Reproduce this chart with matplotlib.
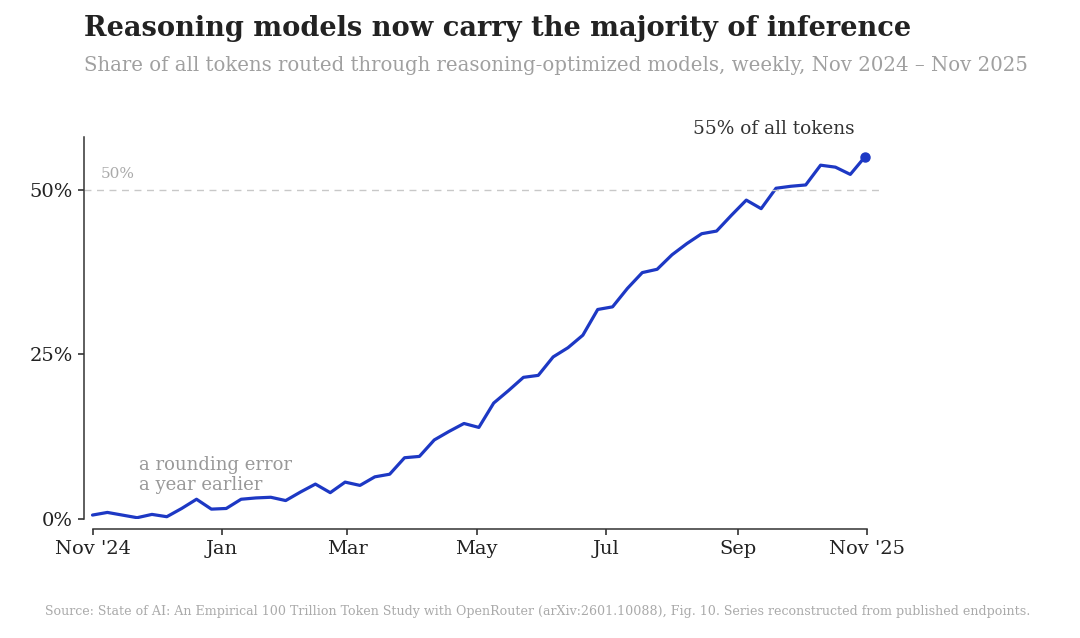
import matplotlib
matplotlib.use("Agg")
from matplotlib import pyplot as plt
import matplotlib.dates as mdates
import pandas as pd

# weekly share of tokens on reasoning-optimized models (%)
share = [0.6, 1.0, 0.6, 0.2, 0.7, 0.35, 1.6, 3.0, 1.5, 1.6,
         3.0, 3.2, 3.3, 2.8, 4.1, 5.3, 4.0, 5.6, 5.1, 6.4,
         6.8, 9.3, 9.5, 12.0, 13.3, 14.5, 13.9, 17.6, 19.5, 21.5,
         21.8, 24.6, 26.0, 27.9, 31.8, 32.2, 35.0, 37.4, 37.9, 40.1,
         41.8, 43.3, 43.7, 46.1, 48.4, 47.1, 50.2, 50.5, 50.7, 53.7,
         53.4, 52.3, 55.0]
weeks = pd.date_range("2024-11-01", periods=len(share), freq="7D")

tick_dates = pd.to_datetime(["2024-11-01", "2025-01-01", "2025-03-01", "2025-05-01",
                             "2025-07-01", "2025-09-01", "2025-11-01"])
tick_labels = ["Nov '24", "Jan", "Mar", "May", "Jul", "Sep", "Nov '25"]
y_ticks = [0, 25, 50]
y_labels = ["0%", "25%", "50%"]

blue = "#1d38c4"
plt.rcParams["font.family"] = ["DejaVu Serif"]

fig = plt.figure(figsize=(10.8, 6.38), dpi=100)
ax = fig.add_axes([0.0778, 0.1865, 0.739, 0.599])

ax.plot(weeks, share, color=blue, lw=2.3, solid_capstyle="round", solid_joinstyle="round")
ax.plot(weeks[-1], share[-1], "o", color=blue, ms=6.5)
ax.axhline(50, color="#c8c8c8", lw=1, ls=(0, (5, 4)))

ax.set_xlim(pd.Timestamp("2024-10-28"), pd.Timestamp("2025-11-08"))
ax.set_ylim(0, 58)
ax.set_xticks(tick_dates)
ax.set_xticklabels(tick_labels)
ax.set_yticks(y_ticks)
ax.set_yticklabels(y_labels)
ax.tick_params(labelsize=14, colors="#222222", length=4.5, width=1.1)

for side in ["top", "right"]:
    ax.spines[side].set_visible(False)
for side in ["left", "bottom"]:
    ax.spines[side].set_color("#333333")
    ax.spines[side].set_linewidth(1.1)
ax.spines["bottom"].set_position(("outward", 7))
ax.spines["bottom"].set_bounds(mdates.date2num(tick_dates[0]), mdates.date2num(tick_dates[-1]))

ax.text(pd.Timestamp("2024-11-05"), 52.4, "50%", color="#aaaaaa", fontsize=11, va="center")
ax.text(pd.Timestamp("2024-11-23"), 6.7, "a rounding error\na year earlier",
        color="#999999", fontsize=13, va="center", linespacing=1.15)
ax.text(pd.Timestamp("2025-10-26"), 59.2, "55% of all tokens", color="#333333",
        fontsize=13.3, ha="right", va="center", clip_on=False)

fig.text(0.0778, 0.955, "Reasoning models now carry the majority of inference",
         fontsize=19.6, fontweight="bold", color="#222222", va="center")
fig.text(0.0778, 0.897, "Share of all tokens routed through reasoning-optimized models, weekly, Nov 2024 \u2013 Nov 2025",
         fontsize=14.25, color="#a0a0a0", va="center")
fig.text(0.498, 0.042, "Source: State of AI: An Empirical 100 Trillion Token Study with OpenRouter (arXiv:2601.10088), Fig. 10. Series reconstructed from published endpoints.",
         fontsize=9.1, color="#aaaaaa", ha="center", va="center")

fig.savefig("out.png", dpi=100)
